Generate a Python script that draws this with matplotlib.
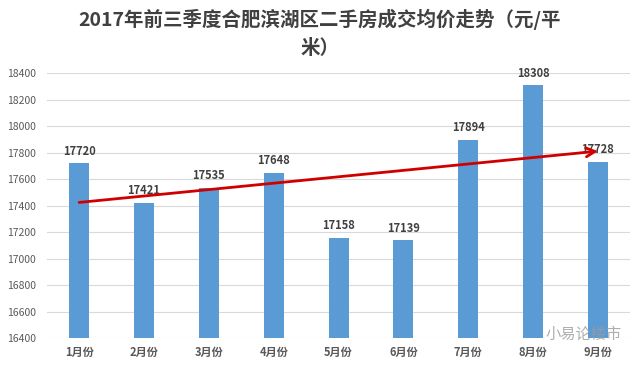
import numpy as np
import matplotlib
matplotlib.use("Agg")
import matplotlib.pyplot as plt

plt.rcParams['font.family'] = ['Noto Sans CJK SC', 'DejaVu Sans']

months = ['1月份', '2月份', '3月份', '4月份', '5月份', '6月份', '7月份', '8月份', '9月份']
prices = [17720, 17421, 17535, 17648, 17158, 17139, 17894, 18308, 17728]
y_ticks = [16400, 16600, 16800, 17000, 17200, 17400, 17600, 17800, 18000, 18200, 18400]

title = '2017年前三季度合肥滨湖区二手房成交均价走势（元/平\n米）'

fig = plt.figure(figsize=(6.4, 3.68), dpi=100)
ax = fig.add_axes([0.073, 0.0815, 0.912, 0.7201])

x = np.arange(len(months))
ax.bar(x, prices, width=0.31, color='#5B9BD5', zorder=2)

for xi, v in zip(x, prices):
    ax.annotate(str(v), (xi, v), xytext=(0, 4), textcoords='offset points',
                ha='center', va='bottom', fontsize=8, fontweight='bold',
                color='#404040', zorder=4)

# linear trend, drawn as an arrow
k, b = np.polyfit(x, prices, 1)
ax.annotate('', xy=(x[-1], k * x[-1] + b), xytext=(x[0], k * x[0] + b),
            arrowprops=dict(arrowstyle='->', color='#D00000', lw=2,
                            mutation_scale=16, shrinkA=0, shrinkB=0),
            zorder=5)

ax.set_ylim(16400, 18400)
ax.set_xlim(-0.5, len(months) - 0.5)
ax.set_yticks(y_ticks)
ax.set_xticks(x)
ax.set_xticklabels(months, fontsize=8, fontweight='bold', color='#595959')
ax.tick_params(axis='y', labelsize=7.5, colors='#595959', length=0, pad=8)
ax.tick_params(axis='x', length=0, pad=6)
ax.grid(axis='y', color='#D9D9D9', lw=0.8, zorder=0)
for s in ax.spines.values():
    s.set_visible(False)

fig.text(0.5, 0.975, title, ha='center', va='top', fontsize=14,
         fontweight='bold', color='#404040', linespacing=1.6)

fig.text(0.972, 0.092, '小易论楼市', ha='right', va='center', fontsize=11,
         color='#9a9a9a', alpha=0.8, zorder=6)

plt.savefig('out.png', dpi=100)
